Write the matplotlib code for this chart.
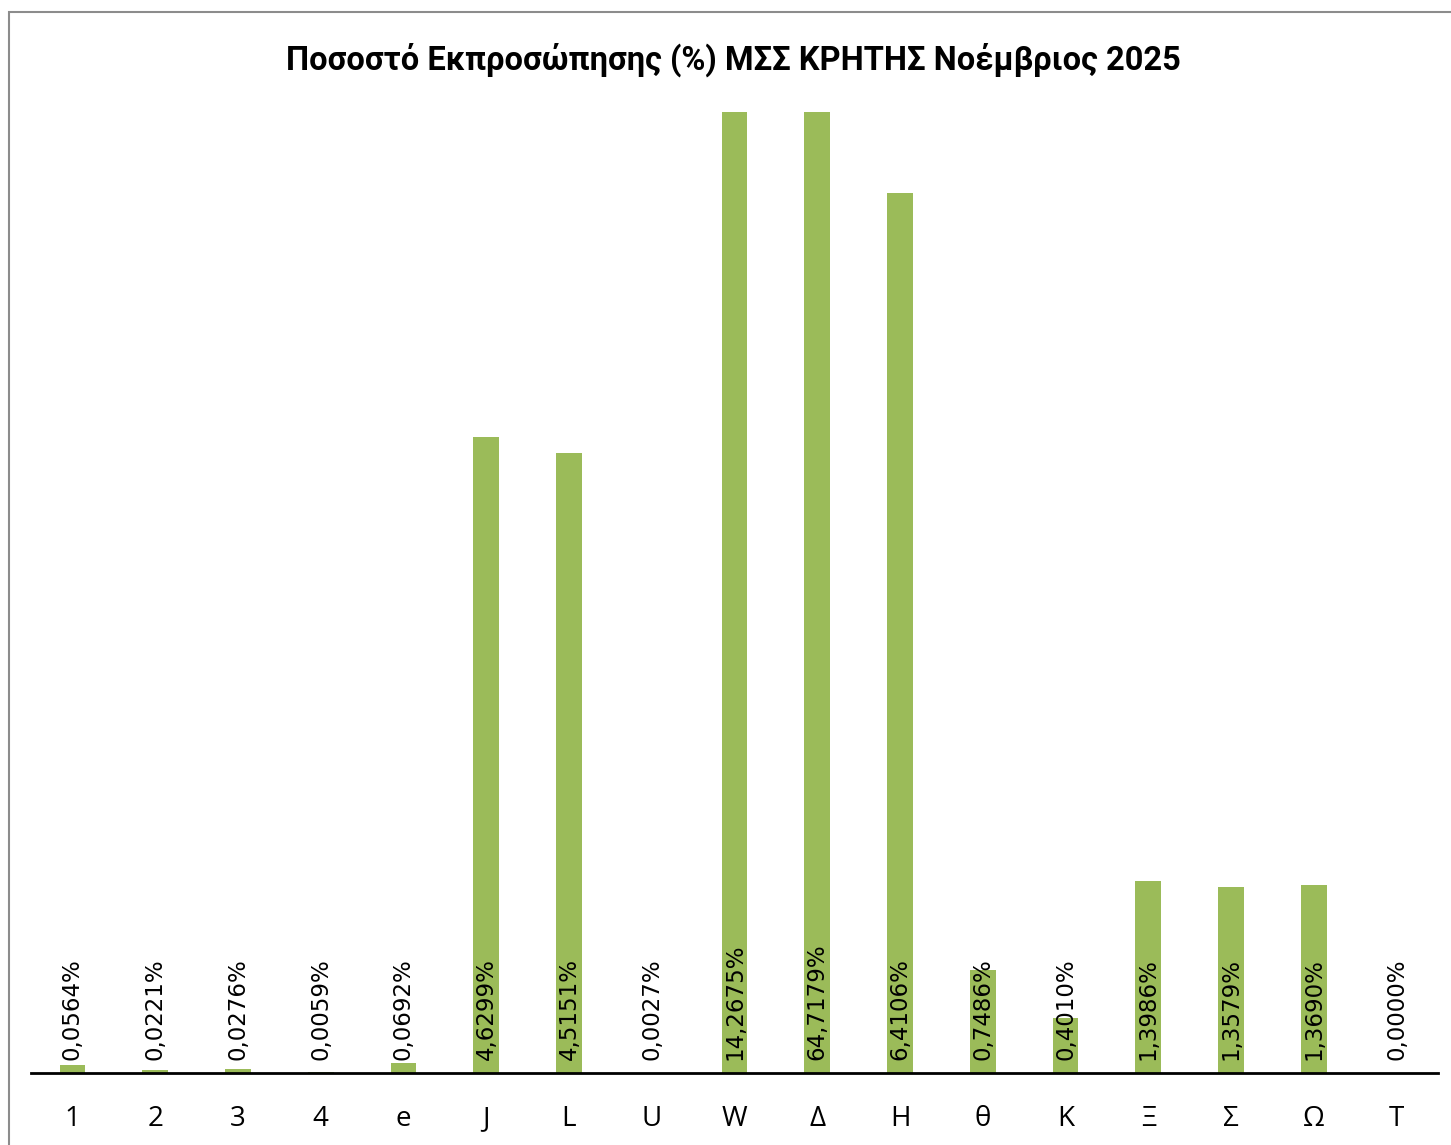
#! /usr/bin/env python3

import numpy as np
from matplotlib import pyplot as plt
from matplotlib.patches import Rectangle


categories = ['1', '2', '3', '4', 'e', 'J', 'L', 'U', 'W', 'Δ', 'Η', 'θ', 'Κ', 'Ξ', 'Σ', 'Ω', 'T']
values = [0.0564, 0.0221, 0.0276, 0.0059, 0.0692, 4.6299, 4.5151, 0.0027,
          14.2675, 64.7179, 6.4106, 0.7486, 0.4010, 1.3986, 1.3579, 1.3690, 0.0000]
title_text = 'Ποσοστό Εκπροσώπησης (%) ΜΣΣ ΚΡΗΤΗΣ Νοέμβριος 2025'

plt.rcParams['font.family'] = ['Open Sans', 'DejaVu Sans']

fig = plt.figure(figsize=(14.51, 11.45), dpi=100)
ax = fig.add_axes([31/1451, 1 - 1073/1145, (1438 - 31)/1451, (1073 - 112)/1145])

x = np.arange(len(categories))
ax.bar(x, values, width=0.31, color='#9BBB59')
ax.set_xlim(-0.5, len(categories) - 0.5)
ax.set_ylim(0, 7)

# value labels, rotated, sitting just above the baseline
for xi, v in zip(x, values):
    label = f'{v:.4f}%'.replace('.', ',')
    ax.annotate(label, (xi, 0), xytext=(0, 9), textcoords='offset points',
                rotation=90, ha='center', va='bottom', fontsize=16.5,
                family='DejaVu Sans', color='black')

ax.set_xticks(x)
ax.set_xticklabels(categories, fontsize=20)
ax.tick_params(axis='x', length=0, pad=23)
ax.set_yticks([])
for side in ['top', 'right', 'left']:
    ax.spines[side].set_visible(False)
ax.spines['bottom'].set_linewidth(2)
ax.spines['bottom'].set_color('black')

fig.text(733/1451, 1 - 60/1145, title_text, ha='center', va='center',
         fontsize=23.5, fontweight='bold', family=['Roboto', 'Open Sans'])

# outer chart frame (only left/top visible in the crop)
fig.patches.append(Rectangle((9/1451, -0.1), 1.2, 1 - 12/1145 + 0.1,
                             transform=fig.transFigure, fill=False,
                             edgecolor='#8c8c8c', linewidth=1.5))

fig.savefig('out.png', dpi=100)
